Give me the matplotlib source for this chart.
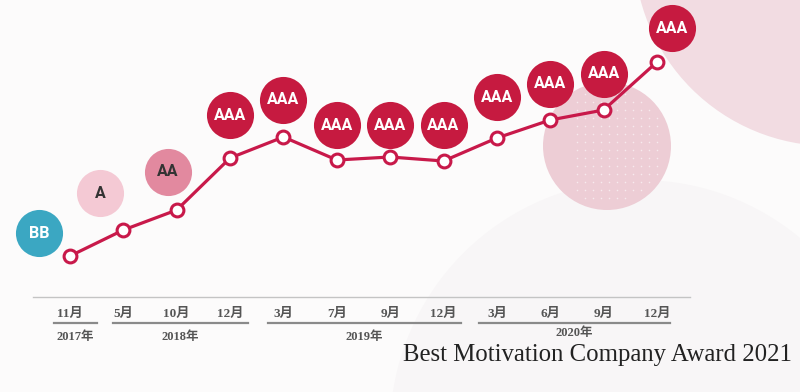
import matplotlib
matplotlib.use("Agg")
import matplotlib.pyplot as plt
import numpy as np
from matplotlib.patches import Ellipse

# ---- data ----
months = ["11月", "5月", "10月", "12月", "3月", "7月", "9月", "12月", "3月", "6月", "9月", "12月"]
years = ["2017年", "2018年", "2019年", "2020年"]
year_groups = [(0, 0), (1, 3), (4, 7), (8, 11)]
scores = [41, 67, 87, 139, 160, 137, 140, 136, 159, 177, 187, 235]
ratings = ["BB", "A", "AA", "AAA", "AAA", "AAA", "AAA", "AAA", "AAA", "AAA", "AAA", "AAA"]
badge_levels = [64, 104, 125, 182, 197, 172, 172, 172, 200, 213, 223, 269]
title = "Best Motivation Company Award 2021"

# ---- style ----
badge_dx = [-0.58, -0.43, -0.17, 0, 0, 0, 0, 0, 0, 0, 0, 0.28]
badge_face = {"BB": "#3BA7C2", "A": "#F4C9D4", "AA": "#E2899F", "AAA": "#C61A40"}
badge_text = {"BB": "white", "A": "#333333", "AA": "#333333", "AAA": "white"}
red = "#C8194A"
group_pad = [(0.3, 0.5), (0.2, 0.34), (0.28, 0.32), (0.34, 0.25)]
year_y = [-40, -40, -40, -36]

W, H = 800, 392
fig = plt.figure(figsize=(W / 100, H / 100), dpi=100)
fig.patch.set_facecolor("#FCFBFB")
ax = fig.add_axes([0, 0, 1, 1])
px = 53.36  # pixels per x unit
ax.set_xlim(-70 / px, (W - 70) / px)
ax.set_ylim(-95, 297)
ax.axis("off")
ax.set_facecolor("none")

def pe(cx, cy, r, **kw):
    return Ellipse((cx, cy), 2 * r / px, 2 * r, **kw)

# background decorations
ax.add_patch(pe((640 - 70) / px, 297 - 430, 250, facecolor="#F8F6F7", edgecolor="none", zorder=0))
ax.add_patch(pe((830 - 70) / px, 297 + 50, 196, facecolor="#F2DCE2", edgecolor="none", zorder=0))
ax.add_patch(pe((607 - 70) / px, 297 - 146, 64, facecolor="#EDCDD5", edgecolor="none", zorder=0))
gx, gy = np.meshgrid(np.arange(545, 672, 8), np.arange(86, 210, 8))
mask = ((gx - 607) ** 2 + (gy - 146) ** 2 < 58 ** 2) & (gx > 575)
ax.scatter((gx[mask] - 70) / px, 297 - gy[mask], s=1.2, color="white", alpha=0.6, zorder=0.5, linewidths=0)

x = np.arange(len(scores))
ax.plot(x, scores, color=red, lw=2.3, zorder=2, solid_capstyle="round")
ax.scatter(x, scores, s=85, facecolor="white", edgecolor=red, linewidths=2.2, zorder=3)

for i, (r, lv) in enumerate(zip(ratings, badge_levels)):
    bx = i + badge_dx[i]
    ax.scatter([bx], [lv], s=1150, color=badge_face[r], linewidths=0, zorder=4)
    ax.text(bx, lv, r, ha="center", va="center", color=badge_text[r],
            fontsize=11.5, fontweight="bold", family=["Roboto", "DejaVu Sans"], zorder=5)

# axis
ax.plot([(33 - 70) / px, (690 - 70) / px], [0, 0], color="#C4C4C4", lw=1.0, zorder=1)
lab_font = ["Liberation Serif", "Noto Sans CJK JP"]
for i, m in enumerate(months):
    ax.text(i, -17, m, ha="center", va="center", fontsize=9.5, color="#555555",
            family=lab_font, fontweight="bold")
for (a, b), yl, (pl, pr), yy in zip(year_groups, years, group_pad, year_y):
    lo, hi = a - pl, b + pr
    ax.plot([lo, hi], [-26, -26], color="#8A8A8A", lw=1.6, zorder=1)
    ax.text((lo + hi) / 2, yy, yl, ha="center", va="center", fontsize=9,
            color="#555555", family=lab_font, fontweight="bold")

ax.text((792 - 70) / px, -58, title, ha="right", va="center", fontsize=17.8,
        color="#222222", family=["Liberation Serif", "DejaVu Serif"])

fig.savefig("out.png", dpi=100, facecolor=fig.get_facecolor())
